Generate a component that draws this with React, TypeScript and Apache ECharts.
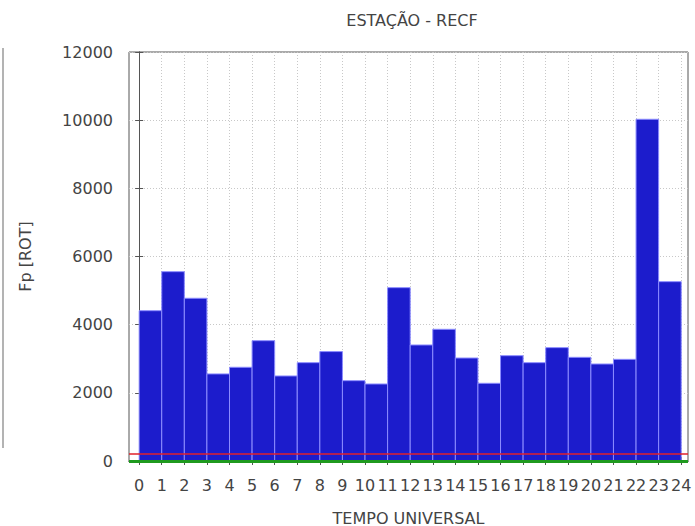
import React, { useEffect, useRef } from "react";
import * as echarts from "echarts";

const hours = [0, 1, 2, 3, 4, 5, 6, 7, 8, 9, 10, 11, 12, 13, 14, 15, 16, 17, 18, 19, 20, 21, 22, 23];
const fpValues = [4410, 5555, 4775, 2555, 2750, 3530, 2495, 2885, 3210, 2357, 2260, 5086, 3404, 3864, 3022, 2280, 3090, 2885, 3326, 3042, 2846, 2983, 10026, 5262];
const xTickLabels = [0, 1, 2, 3, 4, 5, 6, 7, 8, 9, 10, 11, 12, 13, 14, 15, 16, 17, 18, 19, 20, 21, 22, 23, 24];
const redLevel = 200;
const greenLevel = 0;
const yTicks = [0, 2000, 4000, 6000, 8000, 10000, 12000];

const FONT = "DejaVu Sans, Liberation Sans, Arial, sans-serif";
const TXT = "#444444";

export default function App() {
  const ref = useRef<HTMLDivElement>(null);
  useEffect(() => {
    if (!ref.current) return;
    const chart = echarts.init(ref.current, undefined, { renderer: "svg" });
    const xMin = -0.45;
    const xMax = 24.3;
    const data = hours.map((h, i) => [h, fpValues[i]]);
    chart.setOption({
      animation: false,
      backgroundColor: "#ffffff",
      title: {
        text: "ESTAÇÃO - RECF",
        left: 407,
        textAlign: "center",
        top: 7,
        textStyle: { fontFamily: FONT, fontSize: 16, fontWeight: "normal", color: TXT },
      },
      grid: {
        left: 129,
        right: 7,
        top: 52,
        bottom: 65,
        show: true,
        borderColor: "#555",
        borderWidth: 1,
        containLabel: false,
        outerBoundsMode: "none",
      },
      xAxis: [
        {
          type: "value",
          min: xMin,
          max: xMax,
          name: "TEMPO UNIVERSAL",
          nameLocation: "middle",
          nameGap: 49,
          nameTextStyle: { fontFamily: FONT, fontSize: 16, color: TXT },
          axisLine: { show: true, lineStyle: { color: "#555" } },
          axisTick: { show: true, inside: true, length: 4, lineStyle: { color: "#555" }, customValues: xTickLabels },
          axisLabel: {
            fontFamily: FONT,
            fontSize: 16,
            color: TXT,
            margin: 16,
            customValues: xTickLabels,
            formatter: (v: number) => String(v),
          },
          splitLine: { show: true, lineStyle: { color: "#c8c8c8", type: [1, 2], width: 1 } },
        },
        {
          type: "value",
          position: "top",
          min: xMin,
          max: xMax,
          axisLine: { show: true, lineStyle: { color: "#555" } },
          axisTick: { show: true, inside: true, length: 4, lineStyle: { color: "#555" }, customValues: xTickLabels },
          axisLabel: { show: false, customValues: xTickLabels },
          splitLine: { show: false },
        },
      ],
      yAxis: [
        {
          type: "value",
          min: 0,
          max: 12000,
          interval: 2000,
          name: "Fp [ROT]",
          nameLocation: "middle",
          nameGap: 96,
          nameTextStyle: { fontFamily: FONT, fontSize: 16, color: TXT },
          axisLine: { show: true, lineStyle: { color: "#555" } },
          axisTick: { show: true, inside: true, length: 4, lineStyle: { color: "#555" } },
          axisLabel: {
            fontFamily: FONT,
            fontSize: 16,
            color: TXT,
            margin: 16,
            customValues: yTicks,
            formatter: (v: number) => String(v),
          },
          splitLine: { show: true, lineStyle: { color: "#c8c8c8", type: [1, 2], width: 1 } },
        },
        {
          type: "value",
          position: "right",
          min: 0,
          max: 12000,
          interval: 2000,
          axisLine: { show: true, lineStyle: { color: "#555" } },
          axisTick: { show: true, inside: true, length: 4, lineStyle: { color: "#555" } },
          axisLabel: { show: false },
          splitLine: { show: false },
        },
      ],
      graphic: [
        {
          type: "line",
          shape: { x1: 3, y1: 48, x2: 3, y2: 448 },
          style: { stroke: "#9a9a9a", lineWidth: 1.5 },
        },
      ],
      series: [
        {
          type: "custom",
          xAxisIndex: 0,
          yAxisIndex: 0,
          data,
          renderItem: (params: any, api: any) => {
            const x0 = api.value(0);
            const v = api.value(1);
            const p0 = api.coord([x0, 0]);
            const p1 = api.coord([x0 + 1, v]);
            return {
              type: "rect",
              shape: { x: p0[0], y: p1[1], width: p1[0] - p0[0], height: p0[1] - p1[1] },
              style: { fill: "#1c1ccc", stroke: "#8c8cff", lineWidth: 1 },
            };
          },
          z: 2,
        },
        {
          type: "line",
          data: [],
          markLine: {
            silent: true,
            symbol: "none",
            label: { show: false },
            data: [
              { yAxis: greenLevel, lineStyle: { color: "#1f9a1f", width: 3, type: "solid" } },
              { yAxis: redLevel, lineStyle: { color: "#e0202a", width: 1.5, type: "solid" } },
            ],
          },
          z: 3,
        },
      ],
    });
    return () => chart.dispose();
  }, []);
  return (
    <div
      ref={ref}
      style={{ position: "fixed", left: 0, top: 0, width: 695, height: 526 }}
    />
  );
}
